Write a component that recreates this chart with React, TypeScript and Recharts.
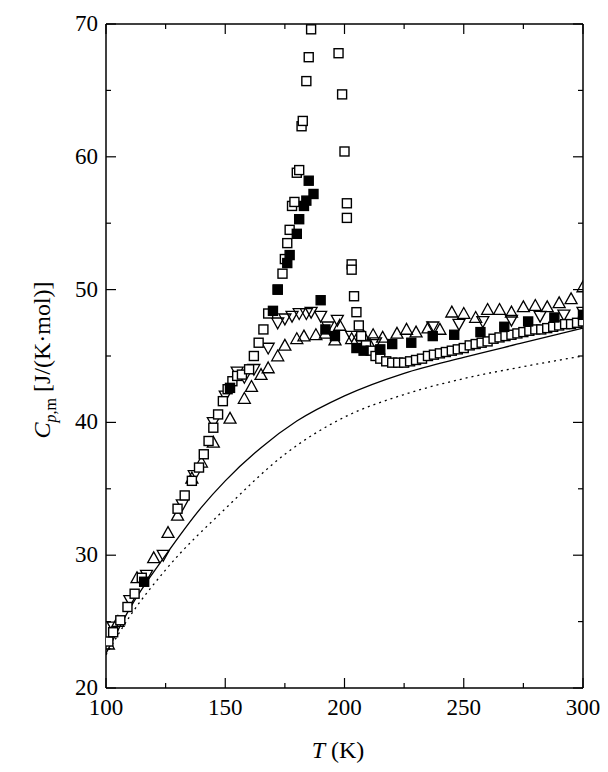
import React from "react";
import { ComposedChart, Scatter, Line, XAxis, YAxis } from "recharts";

// open squares
const openSq: [number, number][] = [
  [101, 23.5], [103, 24.2], [106, 25.1], [109, 26.1], [112, 27.1], [115, 28.3],
  [130, 33.5], [133, 34.5], [136, 35.6], [139, 36.6], [141, 37.6], [143, 38.6], [145, 39.6],
  [147, 40.6], [149, 41.6], [151, 42.5], [153, 43.1], [155, 43.5], [157, 43.6], [160, 44.0],
  [162, 45.0], [164, 46.0], [166, 47.0], [168, 48.2], [172, 50.0], [174, 51.2], [175, 52.3],
  [176, 53.5], [177, 54.5], [178, 56.3], [179, 56.6], [180, 58.8], [181, 59.0], [182, 62.3],
  [182.5, 62.7], [184, 65.7], [185, 67.5], [186, 69.6], [197.5, 67.8], [199, 64.7], [200, 60.4],
  [201, 56.5], [201, 55.4], [203, 51.9], [203, 51.5], [204, 49.5], [205, 48.3], [206, 47.3],
  [207, 46.5], [209, 45.8], [211, 45.4], [213, 45.0], [215, 44.8], [217.5, 44.6], [220, 44.5],
  [222.5, 44.5], [225, 44.5], [227.5, 44.6], [230, 44.7], [232.5, 44.8], [235, 45.0], [237.5, 45.1],
  [240, 45.2], [242.5, 45.3], [245, 45.4], [247.5, 45.5], [250, 45.6], [252.5, 45.8], [255, 45.9],
  [257.5, 46.0], [260, 46.1], [262.5, 46.3], [265, 46.4], [267.5, 46.5], [270, 46.6], [272.5, 46.7],
  [275, 46.8], [277.5, 46.9], [280, 47.0], [282.5, 47.0], [285, 47.1], [287.5, 47.2], [290, 47.3],
  [292.5, 47.4], [295, 47.4], [297.5, 47.5], [300, 47.6],
];

// filled squares
const filledSq: [number, number][] = [
  [116, 28.0], [152, 42.6], [170, 48.4], [172, 50.0], [176, 52.0], [177, 52.6], [180, 54.2],
  [181, 55.3], [183, 56.3], [184, 56.7], [185, 58.2], [187, 57.2], [190, 49.2], [192, 47.0],
  [196, 46.5], [205, 45.6], [208, 45.4], [215, 45.5], [220, 45.9], [228, 46.0], [237, 46.5],
  [246, 46.6], [257, 46.8], [267, 47.2], [277, 47.6], [288, 47.9], [300, 48.1],
];

// triangles up
const triUp: [number, number][] = [
  [101, 23.3], [105, 25.0], [113, 28.3], [120, 29.8], [126, 31.7], [130, 33.0], [136, 35.8],
  [140, 37.0], [145, 38.5], [152, 40.3], [158, 41.8], [161, 42.7], [165, 43.6], [168, 44.1],
  [172, 45.0], [175, 45.8], [180, 46.3], [183, 46.5], [188, 46.6], [192, 46.7], [196, 46.2],
  [198, 47.3], [203, 46.3], [208, 46.5], [212, 46.6], [216, 46.4], [222, 46.7], [226, 47.0],
  [230, 46.8], [235, 47.1], [240, 47.0], [245, 48.3], [250, 48.2], [255, 47.9], [260, 48.5],
  [265, 48.5], [270, 48.3], [275, 48.7], [280, 48.8], [285, 48.7], [290, 49.0], [295, 49.3],
  [300, 50.2],
];

// triangles down
const triDown: [number, number][] = [
  [103, 24.6], [110, 26.6], [117, 28.5], [124, 30.0], [132, 33.8], [137, 36.0], [145, 40.0],
  [150, 42.0], [155, 43.8], [158, 43.4], [162, 44.0], [168, 45.6], [172, 47.5], [175, 47.8],
  [178, 48.0], [181, 48.2], [184, 48.2], [186, 48.3], [190, 48.0], [193, 47.2], [197, 47.7],
  [203, 46.5], [213, 46.0], [237, 47.2], [248, 47.4], [258, 47.6], [270, 47.7], [282, 48.0],
  [292, 48.1], [300, 48.3],
];

// model curves
const solidCurve: [number, number][] = [
  [100, 22.6], [110, 26.0], [125, 30.0], [140, 33.6], [150, 35.6], [165, 38.1], [180, 40.1],
  [200, 42.0], [225, 43.7], [250, 44.9], [275, 46.0], [300, 47.1],
];
const dottedCurve: [number, number][] = [
  [100, 22.5], [110, 25.4], [125, 28.9], [150, 33.5], [175, 37.6], [200, 40.4],
  [225, 42.1], [250, 43.3], [275, 44.2], [300, 45.0],
];

const xTicks = [100, 125, 150, 175, 200, 225, 250, 275, 300];
const yTicks = [20, 25, 30, 35, 40, 45, 50, 55, 60, 65, 70];

const pts = (a: [number, number][]) => a.map(([x, y]) => ({ x, y }));
const font = "'Liberation Serif', 'DejaVu Serif', serif";

const sqShape = (filled: boolean) => (p: any) => {
  const { cx, cy } = p;
  if (cx == null || cy == null) return <g />;
  return <rect x={cx - 4.5} y={cy - 4.5} width={9} height={9} fill={filled ? "#000" : "#fff"} stroke="#000" strokeWidth={1.4} />;
};
const triShape = (up: boolean) => (p: any) => {
  const { cx, cy } = p;
  if (cx == null || cy == null) return <g />;
  const s = 6;
  const d = up
    ? `M${cx},${cy - s} L${cx + s},${cy + s * 0.8} L${cx - s},${cy + s * 0.8} Z`
    : `M${cx},${cy + s} L${cx + s},${cy - s * 0.8} L${cx - s},${cy - s * 0.8} Z`;
  return <path d={d} fill="none" stroke="#000" strokeWidth={1.3} />;
};

const XTick = (side: "bottom" | "top") => (p: any) => {
  const { x, y, payload } = p;
  const major = payload.value % 50 === 0;
  const len = major ? 10 : 5;
  const dir = side === "bottom" ? -1 : 1;
  return (
    <g>
      <line x1={x} y1={y} x2={x} y2={y + dir * len} stroke="#000" strokeWidth={1.2} />
      {side === "bottom" && major && (
        <text x={x} y={y + 27} textAnchor="middle" fontFamily={font} fontSize={23} fill="#000">{payload.value}</text>
      )}
    </g>
  );
};
const YTick = (side: "left" | "right") => (p: any) => {
  const { x, y, payload } = p;
  const major = payload.value % 10 === 0;
  const len = major ? 10 : 5;
  const dir = side === "left" ? 1 : -1;
  return (
    <g>
      <line x1={x} y1={y} x2={x + dir * len} y2={y} stroke="#000" strokeWidth={1.2} />
      {side === "left" && major && (
        <text x={x - 8} y={y + 7} textAnchor="end" fontFamily={font} fontSize={23} fill="#000">{payload.value}</text>
      )}
    </g>
  );
};

export default function App() {
  return (
    <div style={{ position: "absolute", left: 0, top: 0, background: "#fff" }}>
      <ComposedChart width={608} height={772} margin={{ top: 4, right: 5, bottom: 64, left: 86 }}>
        <XAxis xAxisId="b" type="number" dataKey="x" domain={[100, 300]} ticks={xTicks} allowDataOverflow interval={0}
          orientation="bottom" height={20} tickSize={0} tickMargin={0} tick={XTick("bottom")} axisLine={{ stroke: "#000", strokeWidth: 1.5 }} />
        <XAxis xAxisId="t" type="number" dataKey="x" domain={[100, 300]} ticks={xTicks} allowDataOverflow interval={0}
          orientation="top" height={20} tickSize={0} tickMargin={0} tick={XTick("top")} axisLine={{ stroke: "#000", strokeWidth: 1.5 }} />
        <YAxis yAxisId="l" type="number" dataKey="y" domain={[20, 70]} ticks={yTicks} allowDataOverflow interval={0}
          orientation="left" width={20} tickSize={0} tickMargin={0} tick={YTick("left")} axisLine={{ stroke: "#000", strokeWidth: 1.5 }} />
        <YAxis yAxisId="r" type="number" dataKey="y" domain={[20, 70]} ticks={yTicks} allowDataOverflow interval={0}
          orientation="right" width={20} tickSize={0} tickMargin={0} tick={YTick("right")} axisLine={{ stroke: "#000", strokeWidth: 1.5 }} />
        <Line xAxisId="b" yAxisId="l" data={pts(dottedCurve)} dataKey="y" type="monotone" stroke="#000" strokeWidth={1.3}
          strokeDasharray="2 4" dot={false} isAnimationActive={false} />
        <Line xAxisId="b" yAxisId="l" data={pts(solidCurve)} dataKey="y" type="monotone" stroke="#000" strokeWidth={1.3}
          dot={false} isAnimationActive={false} />
        <Scatter xAxisId="b" yAxisId="l" data={pts(triUp)} shape={triShape(true)} isAnimationActive={false} />
        <Scatter xAxisId="b" yAxisId="l" data={pts(triDown)} shape={triShape(false)} isAnimationActive={false} />
        <Scatter xAxisId="b" yAxisId="l" data={pts(openSq)} shape={sqShape(false)} isAnimationActive={false} />
        <Scatter xAxisId="b" yAxisId="l" data={pts(filledSq)} shape={sqShape(true)} isAnimationActive={false} />
        <text x={338} y={758} textAnchor="middle" fontFamily={font} fontSize={24} fill="#000">
          <tspan fontStyle="italic">T</tspan> (K)
        </text>
        <text x={0} y={0} transform="translate(50,360) rotate(-90)" textAnchor="middle" fontFamily={font} fontSize={24} fill="#000">
          <tspan fontStyle="italic">C</tspan>
          <tspan fontSize={16} dy={6} fontStyle="italic">p</tspan>
          <tspan fontSize={16}>,m</tspan>
          <tspan dy={-6}> [J/(K·mol)]</tspan>
        </text>
      </ComposedChart>
    </div>
  );
}
